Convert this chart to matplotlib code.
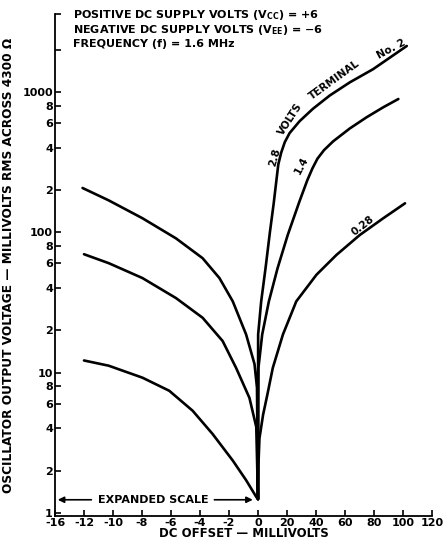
import numpy as np
import matplotlib
matplotlib.use("Agg")
import matplotlib.pyplot as plt

plt.rcParams['font.family'] = ['DejaVu Sans']
plt.rcParams['font.weight'] = 'bold'
plt.rcParams['mathtext.default'] = 'bf'

# curve data (x = DC offset mV, y = output mV rms)
a_x = [-12.1, -10.3, -7.97, -5.66, -3.82, -2.66, -1.74, -0.82, -0.24, -0.07, 0,
       0.05, 0.1, 2.2, 5.2, 8.2, 10.8, 12.7, 14, 16, 18.5, 21.8, 28.7, 37.9, 49.5, 63.3, 79.4, 102.6]
a_y = [207, 169, 126, 90.6, 65.4, 47.2, 32.2, 18.7, 11.5, 7.8, 1.25,
       8, 18.7, 32.2, 55.5, 100, 160, 235, 305, 370, 440, 510, 620, 760, 945, 1172, 1456, 2130]

b_x = [-12, -10.3, -7.97, -5.66, -3.82, -2.44, -1.51, -0.59, -0.12, 0,
       0.15, 0.3, 2.9, 7.5, 13.5, 20.5, 28.5, 34, 37.5, 41, 45.5, 51.8, 63.3, 74.9, 86.4, 96.8]
b_y = [69.8, 60.3, 47.2, 34, 24.6, 16.8, 10.8, 6.6, 4.1, 1.25,
       6, 10.8, 18.7, 32.2, 55.5, 95.7, 165, 235, 285, 335, 385, 445, 550, 661, 779, 892]

c_x = [-12, -10.3, -7.97, -6.12, -4.51, -3.13, -1.74, -0.82, -0.12, 0,
       0.3, 1.0, 3.5, 6.5, 10.2, 17.2, 26.4, 40.3, 54.1, 70.2, 86.4, 101.4]
c_y = [12.2, 11.2, 9.2, 7.42, 5.35, 3.65, 2.36, 1.71, 1.3, 1.25,
       2.2, 3.4, 5.0, 7.0, 10.8, 18.7, 32.2, 49.8, 69, 95.7, 126, 161]

x_ticks = [-14, -12, -10, -8, -6, -4, -2, 0, 20, 40, 60, 80, 100, 120]
x_labels = ["-16", "-12", "-10", "-8", "-6", "-4", "-2", "0", "20", "40", "60", "80", "100", "120"]
y_ticks = [1, 2, 4, 6, 8, 10, 20, 40, 60, 80, 100, 200, 400, 600, 800, 1000, 2000, 3600]
y_labels = ["1", "2", "4", "6", "8", "10", "2", "4", "6", "8", "100", "2", "4", "6", "8", "1000", "", ""]


# expanded scale left of zero: 2 mV per division, 20 mV per division on the right
def fwd(x):
    x = np.asarray(x, dtype=float)
    return np.where(x <= 0, x / 2.0, x / 20.0)


def inv(u):
    u = np.asarray(u, dtype=float)
    return np.where(u <= 0, u * 2.0, u * 20.0)


fig = plt.figure(figsize=(4.45, 5.42), dpi=100)
ax = fig.add_axes([55 / 445, 26 / 542, (432 - 55) / 445, (516 - 14) / 542])
ax.set_xscale('function', functions=(fwd, inv))
ax.set_yscale('log')
ax.set_xlim(-14, 120)
ax.set_ylim(0.95, 3600)

for xs, ys in [(a_x, a_y), (b_x, b_y), (c_x, c_y)]:
    ax.plot(xs, ys, color='black', lw=1.9, solid_capstyle='round', solid_joinstyle='round')

ax.spines['top'].set_visible(False)
ax.spines['right'].set_visible(False)
ax.spines['left'].set_linewidth(1.3)
ax.spines['bottom'].set_linewidth(1.3)

ax.set_xticks(x_ticks)
ax.set_xticklabels(x_labels)
ax.set_yticks(y_ticks)
ax.set_yticklabels(y_labels)
ax.minorticks_off()
ax.tick_params(direction='in', length=4, width=1.2, labelsize=8, pad=1.5)

ax.set_xlabel("DC OFFSET — MILLIVOLTS", fontsize=8.5, fontweight='bold', labelpad=-0.5)
ax.set_ylabel("OSCILLATOR OUTPUT VOLTAGE — MILLIVOLTS RMS ACROSS 4300 Ω",
              fontsize=8.7, fontweight='bold', labelpad=5)

# expanded scale marker
ax.text(-7.2, 1.24, "EXPANDED SCALE", fontsize=8, fontweight='bold', ha='center', va='center')
ax.annotate('', xy=(-14, 1.24), xytext=(-11.3, 1.24),
            arrowprops=dict(arrowstyle='-|>', color='black', lw=1.2, mutation_scale=9))
ax.annotate('', xy=(-0.17, 1.24), xytext=(-3.2, 1.24),
            arrowprops=dict(arrowstyle='-|>', color='black', lw=1.2, mutation_scale=9))

# header notes
fig.text(73 / 445, 1 - 15 / 542, "POSITIVE DC SUPPLY VOLTS (V$_{CC}$) = +6",
         fontsize=8, fontweight='bold', va='center')
fig.text(73 / 445, 1 - 30 / 542, "NEGATIVE DC SUPPLY VOLTS (V$_{EE}$) = −6",
         fontsize=8, fontweight='bold', va='center')
fig.text(73 / 445, 1 - 44 / 542, "FREQUENCY (f) = 1.6 MHz",
         fontsize=8, fontweight='bold', va='center')

# curve labels
for txt, px, py, rot in [("2.8", 275, 157, 74), ("VOLTS", 290, 119, 57),
                         ("TERMINAL", 334, 80, 36), ("No. 2", 391, 49, 28),
                         ("1.4", 302, 165, 62), ("0.28", 363, 226, 38)]:
    fig.text(px / 445, 1 - py / 542, txt, fontsize=7.5, fontweight='bold',
             rotation=rot, ha='center', va='center')

fig.savefig("out.png", dpi=100)
